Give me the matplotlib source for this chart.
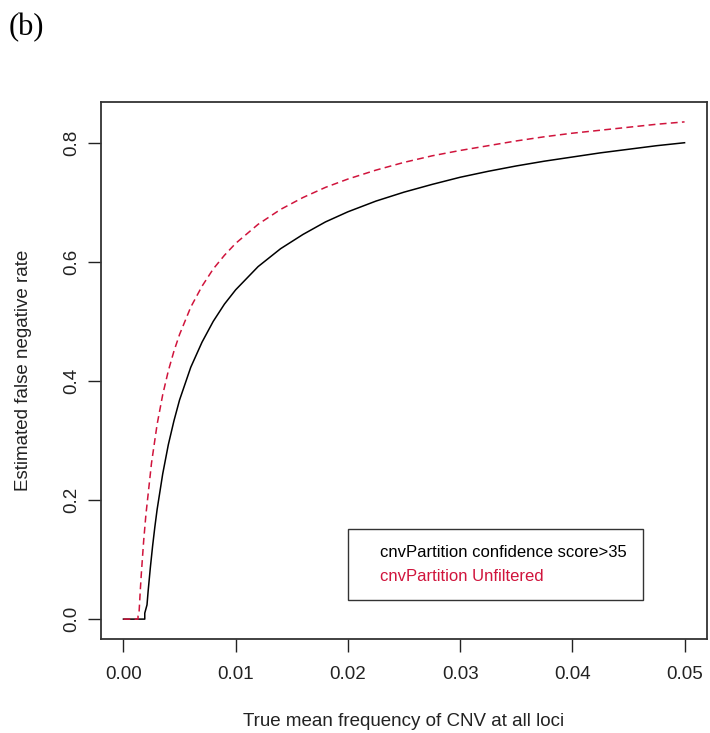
import numpy as np
import matplotlib
matplotlib.use("Agg")
import matplotlib.pyplot as plt

# values (true mean CNV frequency -> estimated FNR)
freq_black = [0.0, 0.0010, 0.0019, 0.0019, 0.0021, 0.0022, 0.0024, 0.0026, 0.0028,
              0.0030, 0.0035, 0.0040, 0.0045, 0.0050, 0.0060, 0.0070, 0.0080,
              0.0090, 0.0100, 0.0120, 0.0140, 0.0160, 0.0180, 0.0200, 0.0225,
              0.0250, 0.0275, 0.0300, 0.0325, 0.0350, 0.0375, 0.0400, 0.0425,
              0.0450, 0.0475, 0.0500]
fnr_black = [0.0, 0.0, 0.0, 0.010, 0.024, 0.047, 0.087, 0.123, 0.155,
             0.184, 0.244, 0.293, 0.333, 0.368, 0.423, 0.465, 0.500,
             0.529, 0.553, 0.592, 0.622, 0.646, 0.667, 0.684, 0.702,
             0.717, 0.730, 0.742, 0.752, 0.761, 0.769, 0.776, 0.783,
             0.789, 0.795, 0.800]

freq_red = [0.0, 0.0010, 0.0013, 0.0013, 0.0014, 0.0015, 0.0016, 0.0018, 0.0020,
            0.0025, 0.0030, 0.0035, 0.0040, 0.0045, 0.0050, 0.0060, 0.0070,
            0.0080, 0.0090, 0.0100, 0.0120, 0.0140, 0.0160, 0.0180, 0.0200,
            0.0225, 0.0250, 0.0275, 0.0300, 0.0325, 0.0350, 0.0375, 0.0400,
            0.0425, 0.0450, 0.0475, 0.0500]
fnr_red = [0.0, 0.0, 0.0, 0.005, 0.014, 0.048, 0.078, 0.131, 0.175,
           0.262, 0.327, 0.377, 0.417, 0.450, 0.478, 0.524, 0.559,
           0.588, 0.611, 0.631, 0.663, 0.688, 0.708, 0.725, 0.739,
           0.754, 0.767, 0.778, 0.787, 0.795, 0.803, 0.810, 0.816,
           0.821, 0.826, 0.831, 0.835]

x_ticks = [0.00, 0.01, 0.02, 0.03, 0.04, 0.05]
y_ticks = [0.0, 0.2, 0.4, 0.6, 0.8]
legend_labels = ["cnvPartition confidence score>35", "cnvPartition Unfiltered"]

plt.rcParams["font.family"] = ["Liberation Sans", "DejaVu Sans"]

fig = plt.figure(figsize=(7.10, 7.33), dpi=100)
ax = fig.add_axes([101 / 710, 94 / 733, 606 / 710, 537 / 733])

red = "#d0143c"
ax.plot(freq_black, fnr_black, color="black", lw=1.1)
ax.plot(freq_red, fnr_red, color=red, lw=1.1, dashes=(4.5, 2.8))

ax.set_xlim(-0.002, 0.052)
ax.set_ylim(-0.0334, 0.8684)
ax.set_xticks(x_ticks)
ax.set_xticklabels(["%.2f" % v for v in x_ticks])
ax.set_yticks(y_ticks)
ax.set_yticklabels(["%.1f" % v for v in y_ticks], rotation=90, va="center")
ax.tick_params(direction="out", length=9.5, width=1.0, labelsize=13.5,
               colors="#222222")
ax.tick_params(axis="x", pad=10)
ax.tick_params(axis="y", pad=5.5)
for s in ax.spines.values():
    s.set_linewidth(1.3)
    s.set_color("#333333")

ax.set_xlabel("True mean frequency of CNV at all loci", fontsize=13.5,
              color="#222222", va="center")
ax.xaxis.set_label_coords(0.5, (639 - 722) / 537)
ax.set_ylabel("Estimated false negative rate", fontsize=13.5,
              color="#222222", va="center")
ax.yaxis.set_label_coords((24 - 101) / 606, 0.5)

leg = ax.legend(handles=[plt.Line2D([], [], lw=0)] * 2, labels=legend_labels,
                loc="lower left", bbox_to_anchor=(0.4076, 0.0726),
                fontsize=12, frameon=True, fancybox=False, borderpad=0.95,
                handlelength=0.45, handletextpad=0.52, labelspacing=0.55,
                borderaxespad=0)
leg.get_frame().set_edgecolor("black")
leg.get_frame().set_linewidth(1.0)
leg.texts[0].set_color("black")
leg.texts[1].set_color(red)

fig.text(9 / 710, 1 - 28 / 733, "(b)", fontsize=22, va="center", ha="left",
         family=["Liberation Serif"])

fig.savefig("out.png", dpi=100, facecolor="white")
